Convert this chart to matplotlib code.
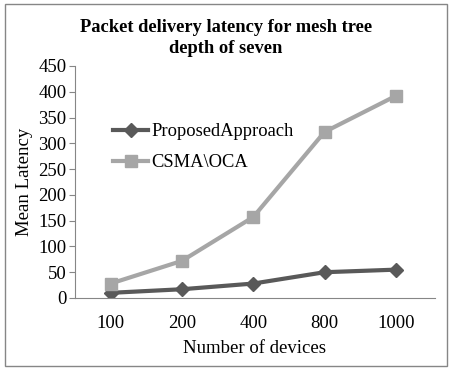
import matplotlib
matplotlib.use("Agg")
import matplotlib.pyplot as plt
from matplotlib.patches import Rectangle

categories = ["100", "200", "400", "800", "1000"]
proposed = [10, 17, 28, 50, 55]
csma = [28, 72, 157, 322, 392]
yticks = [0, 50, 100, 150, 200, 250, 300, 350, 400, 450]

plt.rcParams['font.family'] = ['Liberation Serif', 'DejaVu Serif']

fig = plt.figure(figsize=(4.52, 3.73), dpi=100)
ax = fig.add_axes([75/452, 1-298/373, 360/452, 232/373])

x = list(range(len(categories)))
ax.plot(x, proposed, color='#595959', lw=3, marker='D', ms=7, label='ProposedApproach')
ax.plot(x, csma, color='#a6a6a6', lw=3, marker='s', ms=9, label='CSMA\\OCA')

ax.set_xlim(-0.5, 4.55)
ax.set_ylim(0, 450)
ax.set_yticks(yticks)
ax.set_xticks(x)
ax.set_xticklabels(categories)
ax.tick_params(axis='y', length=4, color='#868686', labelsize=13.5, pad=2)
ax.tick_params(axis='x', length=0, labelsize=13.5, pad=12)
for s in ['top', 'right']:
    ax.spines[s].set_visible(False)
for s in ['left', 'bottom']:
    ax.spines[s].set_color('#868686')
ax.set_ylabel('Mean Latency', fontsize=13.5, labelpad=4)
ax.set_xlabel('Number of devices', fontsize=13.5, labelpad=6)
fig.text(0.5, 1-38/373, 'Packet delivery latency for mesh tree\ndepth of seven',
         ha='center', va='center', fontsize=13.3, fontweight='bold', linespacing=1.3)
ax.legend(loc='upper left', bbox_to_anchor=(0.06, 0.825), frameon=False, fontsize=13.3,
          handlelength=1.9, labelspacing=0.75, handletextpad=0.15)

fig.patches.append(Rectangle((5/452, 1-366/373), 442/452, 362/373, transform=fig.transFigure,
                             fill=False, edgecolor='#868686', lw=1))
fig.savefig('out.png', dpi=100)
